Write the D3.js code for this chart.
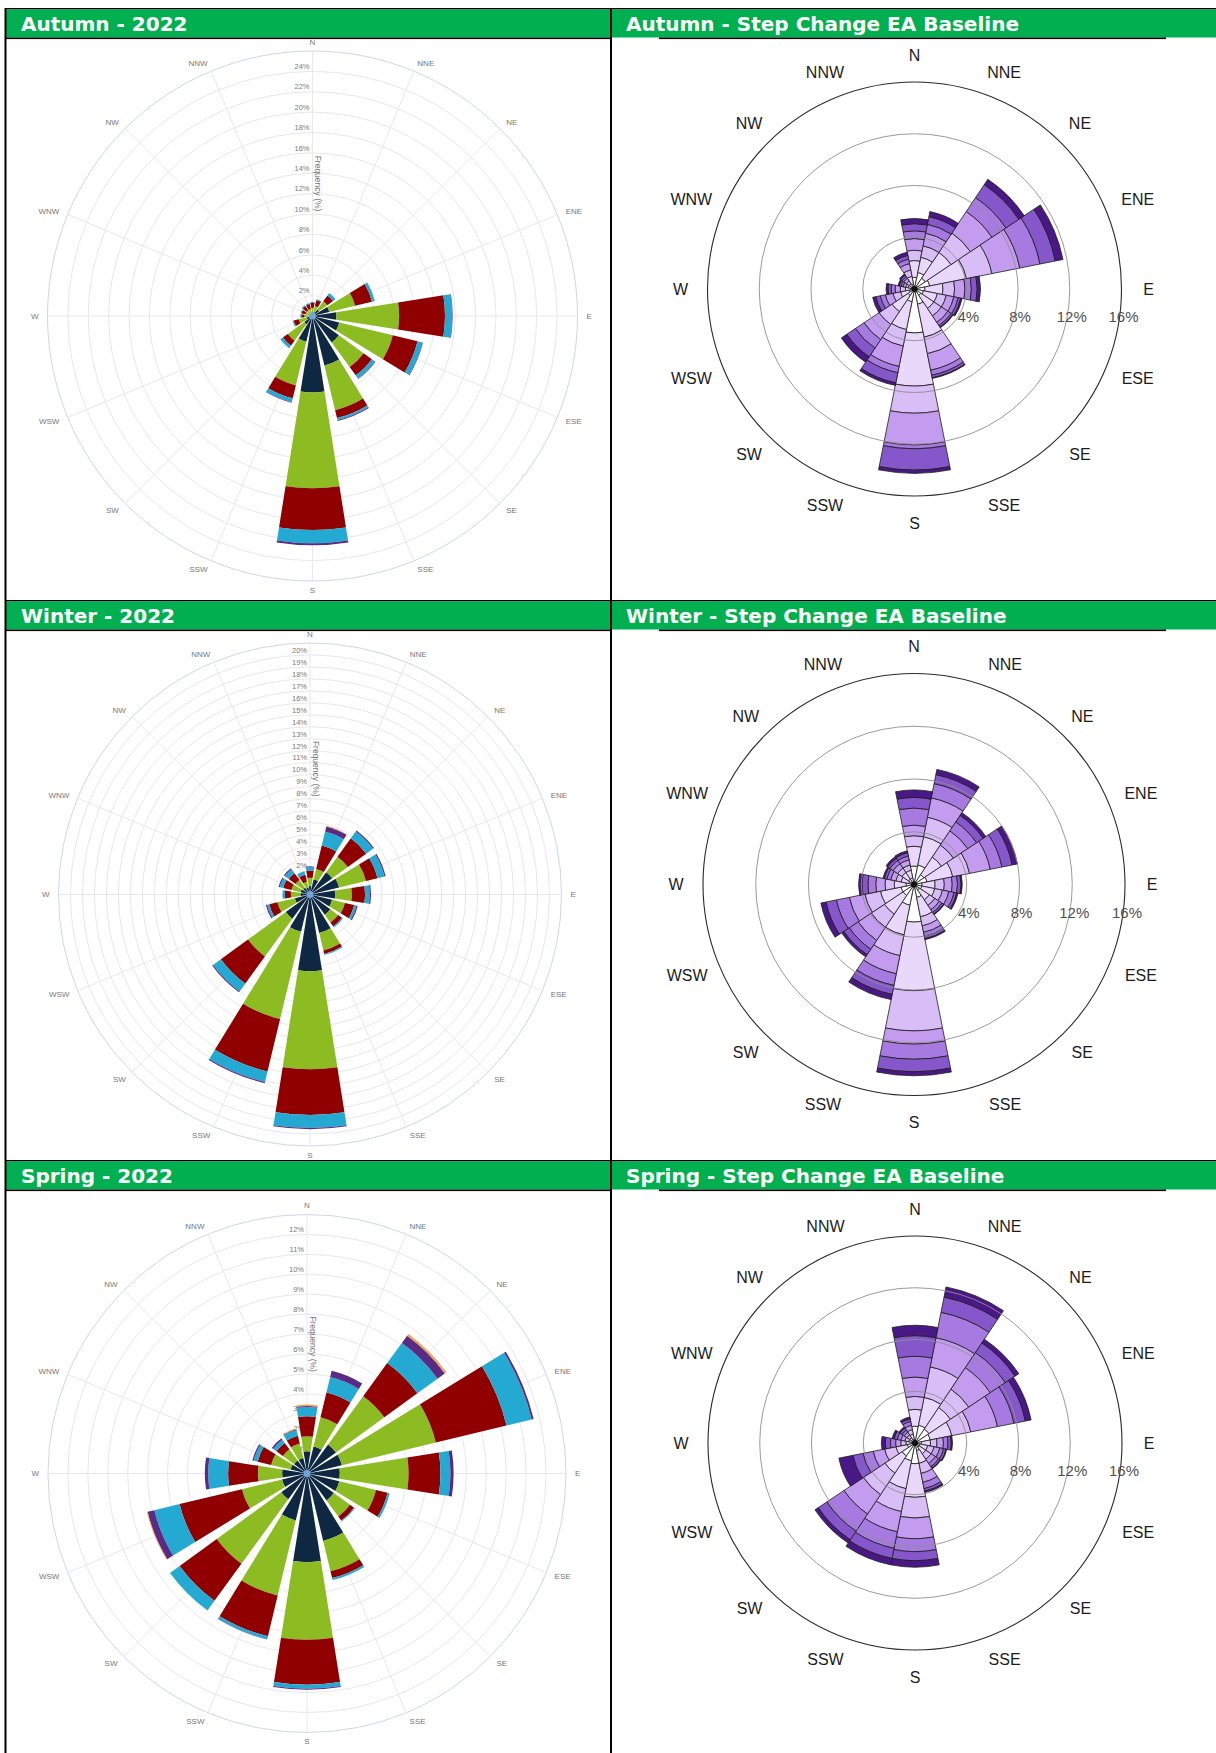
<!DOCTYPE html>
<html><head><meta charset="utf-8">
<script src="https://cdn.jsdelivr.net/npm/d3@7/dist/d3.min.js"></script>
<style>html,body{margin:0;padding:0;background:#fff;} svg{display:block;}</style>
</head><body>
<svg id="chart" width="1216" height="1753"></svg>
<script>
// ---------- labels ----------
const directions = ["N","NNE","NE","ENE","E","ESE","SE","SSE","S","SSW","SW","WSW","W","WNW","NW","NNW"];
const titles2022 = ["Autumn - 2022","Winter - 2022","Spring - 2022"];
const titlesBase = ["Autumn - Step Change EA Baseline","Winter - Step Change EA Baseline","Spring - Step Change EA Baseline"];
const ticksAutumn22 = [2,4,6,8,10,12,14,16,18,20,22,24];
const ticksWinter22 = [1,2,3,4,5,6,7,8,9,10,11,12,13,14,15,16,17,18,19,20];
const ticksSpring22 = [1,2,3,4,5,6,7,8,9,10,11,12];
const ticksBase = [4,8,12,16];
const axisTitle = "Frequency (%)";

// ---------- 2022 observed (% per speed class, directions N..NNW) ----------
const aut22_s1 = [0.3,0.4,0.8,1.7,2.35,2.7,3.2,5.0,7.5,2.6,1.0,0.6,0.3,0.3,0.3,0.3];
const aut22_s2 = [0.5,0.6,1.0,2.6,6.15,5.4,3.0,4.5,9.4,4.4,2.0,0.8,0.5,0.4,0.4,0.4];
const aut22_s3 = [0.5,0.6,0.7,1.7,4.5,2.5,1.0,0.8,4.1,1.3,0.6,0.5,0.3,0.4,0.5,0.5];
const aut22_s4 = [0.1,0.1,0.3,0.3,0.7,0.5,0.4,0.2,1.3,0.4,0.3,0.1,0.1,0.1,0.1,0.1];
const aut22_s5 = [0,0,0,0,0.05,0.05,0.05,0.1,0.2,0.05,0,0,0,0,0,0];
const aut22_s6 = [0,0,0,0,0,0,0,0,0,0,0,0,0,0,0,0];

const win22_s1 = [0.7,1.3,2.3,2.5,2.1,1.9,2.1,3.3,6.4,3.2,2.5,1.3,0.8,0.8,0.7,0.6];
const win22_s2 = [0.7,0.9,1.6,2.3,1.4,1.1,0.8,1.5,8.2,7.5,3.9,1.5,0.8,0.8,0.8,0.5];
const win22_s3 = [0.6,2.0,1.9,1.0,1.1,0.8,0.4,0.3,3.8,4.5,2.8,0.7,0.5,0.7,0.7,0.6];
const win22_s4 = [0.3,1.2,0.7,0.6,0.4,0.2,0.1,0.1,1.1,0.9,0.8,0.2,0.2,0.3,0.4,0.3];
const win22_s5 = [0.05,0.45,0.1,0.1,0.1,0.1,0,0,0.1,0.1,0.1,0.1,0,0.1,0.1,0];
const win22_s6 = [0,0.05,0,0,0,0,0,0,0,0,0,0,0,0,0,0];

const spr22_s1 = [1.12,1.4,1.8,1.8,1.65,1.67,1.67,3.48,4.45,2.42,1.6,1.29,1.25,0.85,0.8,0.8];
const spr22_s2 = [0.75,1.5,3.0,4.85,3.45,1.89,1.0,1.57,3.9,3.88,4.0,2.07,1.21,1.0,0.7,0.75];
const spr22_s3 = [1.0,1.28,2.05,3.65,1.6,0.6,0.25,0.35,2.25,2.1,2.3,3.22,1.5,0.7,0.4,0.4];
const spr22_s4 = [0.47,0.8,1.25,1.3,0.5,0.11,0.05,0.1,0.2,0.15,0.6,1.3,1.0,0.2,0.2,0.3];
const spr22_s5 = [0.05,0.32,0.45,0.1,0.16,0,0,0,0.05,0.02,0,0.35,0.17,0.07,0.08,0.03];
const spr22_s6 = [0.07,0,0.1,0,0,0,0,0,0,0,0,0.04,0,0,0,0.05];

// ---------- Step Change EA Baseline (% per speed class, directions N..NNW) ----------
const autBase_c0 = [0.9,1.3,1.0,1.2,0.8,0.7,0.6,1.2,3.4,1.0,0.6,0.4,0.3,0.2,0.2,0.4];
const autBase_c1 = [1.3,1.2,2.4,2.9,1.4,1.1,1.2,2.6,4.1,2.2,1.5,0.7,0.4,0.3,0.3,0.6];
const autBase_c2 = [0.8,0.9,1.8,2.0,0.9,0.7,0.7,1.3,2.1,1.3,1.2,0.6,0.4,0.2,0.25,0.5];
const autBase_c3 = [0.9,1.0,2.0,2.2,0.8,0.6,0.6,1.3,2.45,1.6,1.4,0.6,0.4,0.2,0.25,0.5];
const autBase_c4 = [0.6,0.7,1.3,1.6,0.5,0.35,0.3,0.4,0.3,0.5,0.8,0.4,0.3,0.15,0.15,0.35];
const autBase_c5 = [0.55,0.6,1.2,1.2,0.45,0.2,0.15,0.2,1.65,0.8,0.8,0.35,0.25,0.15,0.15,0.3];
const autBase_c6 = [0.4,0.4,0.5,0.6,0.25,0.1,0.05,0.05,0.25,0.2,0.5,0.25,0.15,0.1,0.1,0.25];

const winBase_c0 = [1.4,1.5,0.9,1.0,0.6,0.6,0.5,1.0,2.85,1.6,1.0,1.0,0.6,0.4,0.5,0.5];
const winBase_c1 = [1.5,2.2,1.6,2.0,1.0,1.0,0.9,1.5,5.2,2.3,1.7,1.6,0.9,0.6,0.6,0.6];
const winBase_c2 = [0.8,1.5,1.1,1.3,0.7,0.6,0.5,0.7,3.05,1.6,1.2,1.2,0.7,0.4,0.4,0.4];
const winBase_c3 = [0.8,1.5,1.3,1.6,0.6,0.5,0.4,0.5,1.0,1.4,1.2,1.2,0.7,0.4,0.4,0.4];
const winBase_c4 = [1.3,1.1,0.8,0.9,0.4,0.4,0.25,0.3,1.15,0.9,0.8,1.0,0.6,0.3,0.3,0.3];
const winBase_c5 = [0.8,0.7,0.6,0.8,0.26,0.2,0.15,0.2,0.95,0.7,0.5,0.8,0.45,0.2,0.2,0.25];
const winBase_c6 = [0.57,0.4,0.25,0.4,0.1,0.1,0.05,0.07,0.3,0.4,0.2,0.4,0.25,0.1,0.15,0.15];

const sprBase_c0 = [1.3,1.4,1.3,1.2,0.5,0.4,0.4,0.6,1.6,1.4,1.2,0.6,0.3,0.2,0.2,0.3];
const sprBase_c1 = [1.3,2.2,2.0,1.7,0.7,0.6,0.6,1.0,2.6,2.2,1.6,0.9,0.4,0.3,0.3,0.4];
const sprBase_c2 = [1.0,2.4,1.7,1.5,0.5,0.5,0.5,0.8,1.6,1.8,2.0,0.9,0.4,0.3,0.25,0.35];
const sprBase_c3 = [1.5,2.3,2.0,2.1,0.5,0.45,0.4,0.7,1.6,1.6,1.8,0.9,0.4,0.3,0.25,0.35];
const sprBase_c4 = [1.6,2.0,1.4,1.3,0.35,0.3,0.3,0.5,1.0,1.3,1.6,0.8,0.4,0.3,0.2,0.3];
const sprBase_c5 = [1.6,1.2,0.9,0.9,0.25,0.2,0.15,0.2,0.7,0.8,0.8,0.8,0.4,0.25,0.2,0.2];
const sprBase_c6 = [0.8,0.8,0.35,0.45,0.1,0.05,0.05,0.1,0.5,0.5,0.3,1.1,0.3,0.15,0.1,0.15];

const obsColors = ["#0e2841","#8cbc22","#910000","#24aad2","#5a2b84","#f3a050"];
const baseColors = ["#ffffff","#e9d8fa","#d9bdf6","#c49cef","#a67ae0","#8656cb","#4a1886"];

// ---------- drawing ----------
const W = 1216, H = 1753;
const svg = d3.select("#chart");
svg.append("rect").attr("width", W).attr("height", H).attr("fill", "#fff");

const STEP = 2 * Math.PI / 16;
const arc = d3.arc();
const FONT = "Liberation Sans, Arial, sans-serif";

function stackRows(series) {
  const keys = series.map((s, k) => "k" + k);
  const rows = directions.map((d, i) => { const o = {}; series.forEach((s, k) => o["k" + k] = s[i]); return o; });
  return d3.stack().keys(keys)(rows);
}

function drawObs(cfg) {
  const g = svg.append("g").attr("transform", `translate(${cfg.cx},${cfg.cy})`);
  const r = d3.scaleLinear().domain([0, cfg.max]).range([0, cfg.R]);
  const rings = d3.range(cfg.ringStep, cfg.max + 1e-9, cfg.ringStep);
  g.selectAll("circle.ring").data(rings).join("circle")
    .attr("r", d => r(d)).attr("fill", "none")
    .attr("stroke", d => Math.abs(d - cfg.max) < 1e-6 ? "#cfd6ea" : "#e8e8ec").attr("stroke-width", 1);
  g.selectAll("line.spoke").data(directions).join("line")
    .attr("x1", 0).attr("y1", 0)
    .attr("x2", (d, i) => cfg.R * Math.sin(i * STEP))
    .attr("y2", (d, i) => -cfg.R * Math.cos(i * STEP))
    .attr("stroke", "#e8e8ec").attr("stroke-width", 1);
  g.selectAll("text.tick").data(cfg.ticks).join("text")
    .attr("x", -3).attr("y", d => -r(d) - 2.3)
    .attr("text-anchor", "end").attr("font-family", FONT)
    .attr("font-size", 7.5).attr("fill", "#7a7a7a").text(d => d + "%");
  g.append("text").attr("transform", `translate(2.5,${-cfg.R * 0.5}) rotate(90)`)
    .attr("text-anchor", "middle").attr("font-family", FONT)
    .attr("font-size", 8.5).attr("fill", "#777").text(axisTitle);

  const stacked = stackRows(cfg.series);
  const half = STEP * 0.4;
  stacked.forEach((layer, k) => {
    g.append("g").selectAll("path")
      .data(layer.map((p, i) => ({ p, i })).filter(d => d.p[1] - d.p[0] > 0))
      .join("path")
      .attr("d", d => arc({ innerRadius: r(d.p[0]), outerRadius: r(d.p[1]), startAngle: d.i * STEP - half, endAngle: d.i * STEP + half }))
      .attr("fill", cfg.colors[k]);
  });
  g.append("circle").attr("r", 3.5).attr("fill", "#6fa6de");

  const lr = cfg.R + 9;
  g.selectAll("text.dir").data(directions).join("text")
    .attr("x", (d, i) => lr * Math.sin(i * STEP))
    .attr("y", (d, i) => -lr * Math.cos(i * STEP))
    .attr("dy", "0.35em")
    .attr("text-anchor", (d, i) => { const s = Math.sin(i * STEP); return s > 0.2 ? "start" : (s < -0.2 ? "end" : "middle"); })
    .attr("font-family", FONT)
    .attr("font-size", 8).attr("fill", "#777").text(d => d);
}

function drawBase(cfg) {
  const g = svg.append("g").attr("transform", `translate(${cfg.cx},${cfg.cy})`);
  const r = d3.scaleLinear().domain([0, 16]).range([0, cfg.R]);
  const stacked = stackRows(cfg.series);
  const half = STEP / 2;
  stacked.forEach((layer, k) => {
    g.append("g").selectAll("path")
      .data(layer.map((p, i) => ({ p, i })).filter(d => d.p[1] - d.p[0] > 0))
      .join("path")
      .attr("d", d => arc({ innerRadius: r(d.p[0]), outerRadius: r(d.p[1]), startAngle: d.i * STEP - half, endAngle: d.i * STEP + half }))
      .attr("fill", cfg.colors[k]).attr("stroke", "#1d1d1d").attr("stroke-width", 0.8);
  });
  g.selectAll("circle.ring").data(ticksBase).join("circle")
    .attr("r", d => r(d)).attr("fill", "none")
    .attr("stroke", d => d === 16 ? "#2a2a2a" : "#8f8f8f")
    .attr("stroke-width", d => d === 16 ? 1.1 : 0.9);
  g.append("circle").attr("r", 3).attr("fill", "#111");
  g.selectAll("text.pct").data(ticksBase).join("text")
    .attr("x", d => r(d) + 2).attr("y", 28).attr("dy", "0.35em")
    .attr("text-anchor", "middle").attr("font-family", FONT)
    .attr("font-size", 15).attr("fill", "#505050").text(d => d + "%");
  const lr = cfg.R + 27;
  g.selectAll("text.dir").data(directions).join("text")
    .attr("x", (d, i) => {
      const s = Math.sin(i * STEP), c = Math.cos(i * STEP);
      const extra = (Math.abs(s) > 0.9 && Math.abs(c) > 0.2) ? 7 * Math.sign(s) : 0;
      return lr * s + extra;
    })
    .attr("y", (d, i) => -lr * Math.cos(i * STEP))
    .attr("dy", "0.35em").attr("text-anchor", "middle")
    .attr("font-family", FONT)
    .attr("font-size", 16).attr("fill", "#1c1c1c").text(d => d);
}

drawObs({ cx: 312.5, cy: 316, R: 265, max: 26, ringStep: 2, ticks: ticksAutumn22, colors: obsColors,
  series: [aut22_s1, aut22_s2, aut22_s3, aut22_s4, aut22_s5, aut22_s6] });
drawObs({ cx: 310, cy: 894.5, R: 251.5, max: 21, ringStep: 1, ticks: ticksWinter22, colors: obsColors,
  series: [win22_s1, win22_s2, win22_s3, win22_s4, win22_s5, win22_s6] });
drawObs({ cx: 307, cy: 1473.5, R: 259, max: 13, ringStep: 1, ticks: ticksSpring22, colors: obsColors,
  series: [spr22_s1, spr22_s2, spr22_s3, spr22_s4, spr22_s5, spr22_s6] });

drawBase({ cx: 914.5, cy: 289, R: 207, colors: baseColors,
  series: [autBase_c0, autBase_c1, autBase_c2, autBase_c3, autBase_c4, autBase_c5, autBase_c6] });
drawBase({ cx: 914, cy: 884.5, R: 211, colors: baseColors,
  series: [winBase_c0, winBase_c1, winBase_c2, winBase_c3, winBase_c4, winBase_c5, winBase_c6] });
drawBase({ cx: 915, cy: 1443, R: 207, colors: baseColors,
  series: [sprBase_c0, sprBase_c1, sprBase_c2, sprBase_c3, sprBase_c4, sprBase_c5, sprBase_c6] });

// ---------- table frame & headers ----------
const headerTops = [8, 600, 1160];
headerTops.forEach((y, i) => {
  svg.append("rect").attr("x", 5).attr("y", y).attr("width", W - 5).attr("height", 1.5).attr("fill", "#000");
  svg.append("rect").attr("x", 6).attr("y", y + 1.5).attr("width", W - 6).attr("height", 28).attr("fill", "#00b050");
  svg.append("rect").attr("x", 5).attr("y", y + 29.5).attr("width", 606).attr("height", 1.6).attr("fill", "#000");
  svg.append("rect").attr("x", 659).attr("y", y + 29.5).attr("width", 507).attr("height", 1.6).attr("fill", "#000");
  svg.append("text").attr("x", 21).attr("y", y + 23).attr("font-family", "DejaVu Sans, sans-serif")
    .attr("font-weight", "bold").attr("font-size", 20).attr("fill", "#fff").text(titles2022[i]);
  svg.append("text").attr("x", 626).attr("y", y + 23).attr("font-family", "DejaVu Sans, sans-serif")
    .attr("font-weight", "bold").attr("font-size", 20).attr("fill", "#fff").text(titlesBase[i]);
});
svg.append("rect").attr("x", 4.5).attr("y", 8).attr("width", 2).attr("height", H - 8).attr("fill", "#000");
svg.append("rect").attr("x", 610).attr("y", 8).attr("width", 2).attr("height", H - 8).attr("fill", "#000");
</script>
</body></html>
